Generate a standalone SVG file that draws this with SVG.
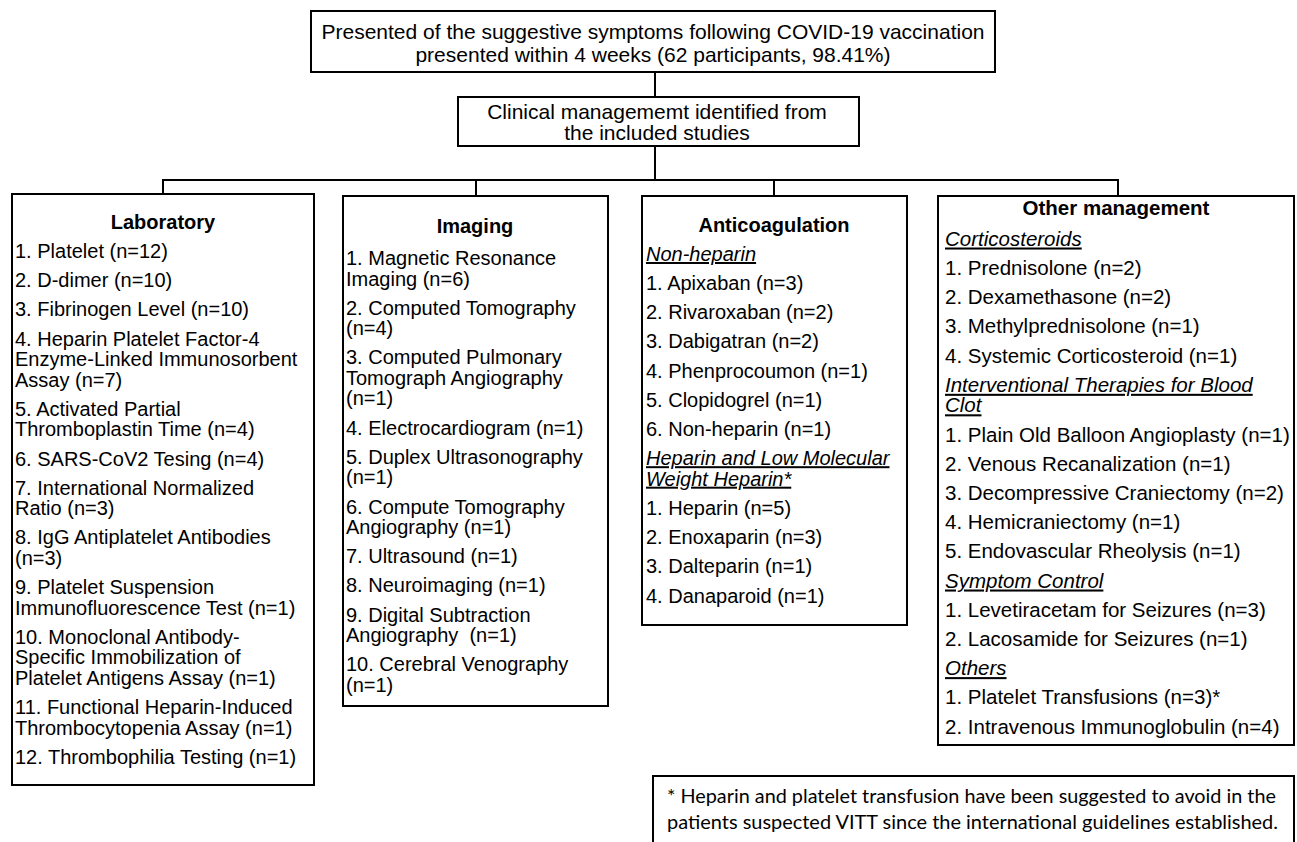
<svg xmlns="http://www.w3.org/2000/svg" width="1297" height="842" viewBox="0 0 1297 842">
<style>
.box{fill:#fff;stroke:#000;stroke-width:2}
.conn{stroke:#000;stroke-width:2;fill:none}
.t{font-family:'Liberation Sans',Arial,Helvetica,sans-serif;font-size:20px;fill:#000}
.o{font-size:20.5px}
.top{font-size:21px;text-anchor:middle}
.h{font-weight:bold;text-anchor:middle}
.sub{font-style:italic;text-decoration:underline}
.fn{font-family:Lato,'Open Sans',sans-serif;font-size:19px;fill:#000}
</style>
<rect width="1297" height="842" fill="#fff"/>
<g id="connectors">
<path class="conn" d="M655 72V97M655 146V180M163 180H1118M163 179V194M476 179V196M774 179V196M1118 179V196"/>
</g>
<g id="node-presented">
<rect class="box" x="311" y="11" width="684" height="61"/>
<text class="t top" x="653" y="39">Presented of the suggestive symptoms following COVID-19 vaccination</text>
<text class="t top" x="653" y="62">presented within 4 weeks (62 participants, 98.41%)</text>
</g>
<g id="node-clinical">
<rect class="box" x="458" y="97" width="401" height="49"/>
<text class="t top" x="657" y="119">Clinical managememt identified from</text>
<text class="t top" x="657" y="140">the included studies</text>
</g>
<g id="node-laboratory">
<rect class="box" x="12" y="194" width="302" height="591"/>
<text class="t h" x="163" y="229">Laboratory</text>
<text class="t" x="15" y="258">1. Platelet (n=12)</text>
<text class="t" x="15" y="287.2">2. D-dimer (n=10)</text>
<text class="t" x="15" y="316.4">3. Fibrinogen Level (n=10)</text>
<text class="t" x="15" y="345.6">4. Heparin Platelet Factor-4</text>
<text class="t" x="15" y="366.1">Enzyme-Linked Immunosorbent</text>
<text class="t" x="15" y="386.6">Assay (n=7)</text>
<text class="t" x="15" y="415.8">5. Activated Partial</text>
<text class="t" x="15" y="436.3">Thromboplastin Time (n=4)</text>
<text class="t" x="15" y="465.5">6. SARS-CoV2 Tesing (n=4)</text>
<text class="t" x="15" y="494.7">7. International Normalized</text>
<text class="t" x="15" y="515.2">Ratio (n=3)</text>
<text class="t" x="15" y="544.4">8. IgG Antiplatelet Antibodies</text>
<text class="t" x="15" y="564.9">(n=3)</text>
<text class="t" x="15" y="594.1">9. Platelet Suspension</text>
<text class="t" x="15" y="614.6">Immunofluorescence Test (n=1)</text>
<text class="t" x="15" y="643.8">10. Monoclonal Antibody-</text>
<text class="t" x="15" y="664.3">Specific Immobilization of</text>
<text class="t" x="15" y="684.8">Platelet Antigens Assay (n=1)</text>
<text class="t" x="15" y="714">11. Functional Heparin-Induced</text>
<text class="t" x="15" y="734.5">Thrombocytopenia Assay (n=1)</text>
<text class="t" x="15" y="763.7">12. Thrombophilia Testing (n=1)</text>
</g>
<g id="node-imaging">
<rect class="box" x="343" y="196" width="265" height="510"/>
<text class="t h" x="475" y="233">Imaging</text>
<text class="t" x="346" y="265">1. Magnetic Resonance</text>
<text class="t" x="346" y="285.5">Imaging (n=6)</text>
<text class="t" x="346" y="314.7">2. Computed Tomography</text>
<text class="t" x="346" y="335.2">(n=4)</text>
<text class="t" x="346" y="364.4">3. Computed Pulmonary</text>
<text class="t" x="346" y="384.9">Tomograph Angiography</text>
<text class="t" x="346" y="405.4">(n=1)</text>
<text class="t" x="346" y="434.6">4. Electrocardiogram (n=1)</text>
<text class="t" x="346" y="463.8">5. Duplex Ultrasonography</text>
<text class="t" x="346" y="484.3">(n=1)</text>
<text class="t" x="346" y="513.5">6. Compute Tomography</text>
<text class="t" x="346" y="534">Angiography (n=1)</text>
<text class="t" x="346" y="563.2">7. Ultrasound (n=1)</text>
<text class="t" x="346" y="592.4">8. Neuroimaging (n=1)</text>
<text class="t" x="346" y="621.6">9. Digital Subtraction</text>
<text class="t" x="346" y="642.1" xml:space="preserve">Angiography  (n=1)</text>
<text class="t" x="346" y="671.3">10. Cerebral Venography</text>
<text class="t" x="346" y="691.8">(n=1)</text>
</g>
<g id="node-anticoagulation">
<rect class="box" x="642" y="196" width="265" height="429"/>
<text class="t h" x="774" y="232">Anticoagulation</text>
<text class="t sub" x="646" y="261">Non-heparin</text>
<text class="t" x="646" y="290">1. Apixaban (n=3)</text>
<text class="t" x="646" y="319.2">2. Rivaroxaban (n=2)</text>
<text class="t" x="646" y="348.4">3. Dabigatran (n=2)</text>
<text class="t" x="646" y="377.6">4. Phenprocoumon (n=1)</text>
<text class="t" x="646" y="406.8">5. Clopidogrel (n=1)</text>
<text class="t" x="646" y="436">6. Non-heparin (n=1)</text>
<text class="t sub" x="646" y="465.2">Heparin and Low Molecular</text>
<text class="t sub" x="646" y="485.7">Weight Heparin*</text>
<text class="t" x="646" y="514.9">1. Heparin (n=5)</text>
<text class="t" x="646" y="544.1">2. Enoxaparin (n=3)</text>
<text class="t" x="646" y="573.3">3. Dalteparin (n=1)</text>
<text class="t" x="646" y="602.5">4. Danaparoid (n=1)</text>
</g>
<g id="node-other">
<rect class="box" x="938" y="196" width="356" height="549"/>
<text class="t o h" x="1116" y="215">Other management</text>
<text class="t o sub" x="945" y="245.5">Corticosteroids</text>
<text class="t o" x="945" y="275">1. Prednisolone (n=2)</text>
<text class="t o" x="945" y="304.2">2. Dexamethasone (n=2)</text>
<text class="t o" x="945" y="333.4">3. Methylprednisolone (n=1)</text>
<text class="t o" x="945" y="362.6">4. Systemic Corticosteroid (n=1)</text>
<text class="t o sub" x="945" y="391.8">Interventional Therapies for Blood</text>
<text class="t o sub" x="945" y="412.3">Clot</text>
<text class="t o" x="945" y="441.5">1. Plain Old Balloon Angioplasty (n=1)</text>
<text class="t o" x="945" y="470.7">2. Venous Recanalization (n=1)</text>
<text class="t o" x="945" y="499.9">3. Decompressive Craniectomy (n=2)</text>
<text class="t o" x="945" y="529.1">4. Hemicraniectomy (n=1)</text>
<text class="t o" x="945" y="558.3">5. Endovascular Rheolysis (n=1)</text>
<text class="t o sub" x="945" y="587.5">Symptom Control</text>
<text class="t o" x="945" y="616.7">1. Levetiracetam for Seizures (n=3)</text>
<text class="t o" x="945" y="645.9">2. Lacosamide for Seizures (n=1)</text>
<text class="t o sub" x="945" y="675.1">Others</text>
<text class="t o" x="945" y="704.3">1. Platelet Transfusions (n=3)*</text>
<text class="t o" x="945" y="733.5">2. Intravenous Immunoglobulin (n=4)</text>
</g>
<g id="node-footnote">
<rect class="box" x="653" y="776" width="641" height="80"/>
<text class="fn" x="667" y="803" textLength="609" lengthAdjust="spacingAndGlyphs">* Heparin and platelet transfusion have been suggested to avoid in the</text>
<text class="fn" x="667" y="829" textLength="611" lengthAdjust="spacingAndGlyphs">patients suspected VITT since the international guidelines established.</text>
</g>
</svg>
